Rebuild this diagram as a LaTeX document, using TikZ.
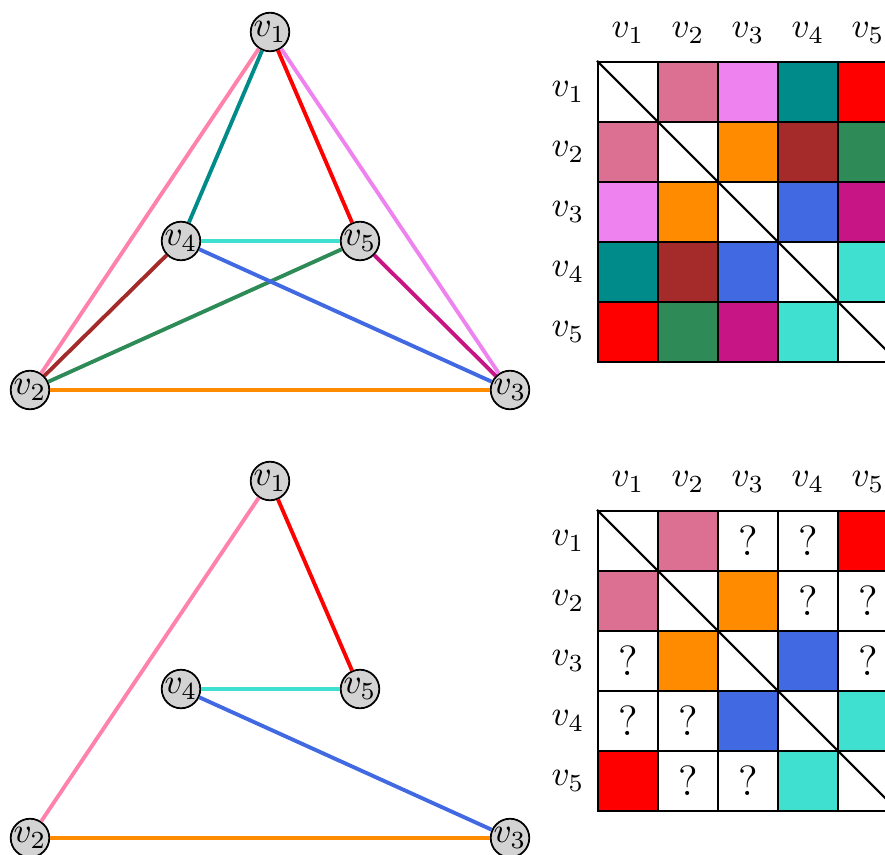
\documentclass[tikz,border=0pt]{standalone}
\usepackage{xcolor}
\usepackage{tikz}
\usetikzlibrary{positioning}

\definecolor{epink}{RGB}{255,130,170}
\definecolor{cpink}{RGB}{219,112,147}
\definecolor{eviolet}{RGB}{238,130,238}
\definecolor{eteal}{RGB}{0,139,139}
\definecolor{ered}{RGB}{255,0,0}
\definecolor{eorange}{RGB}{255,140,0}
\definecolor{ebrown}{RGB}{165,42,42}
\definecolor{egreen}{RGB}{46,139,87}
\definecolor{eblue}{RGB}{65,105,225}
\definecolor{emagenta}{RGB}{199,21,133}
\definecolor{eturq}{RGB}{64,224,208}
\definecolor{vgray}{RGB}{211,211,211}

\begin{document}
\begin{tikzpicture}[
  x=0.01cm, y=-0.01cm,
  vertex/.style={circle, draw, fill=vgray, minimum size=0.36cm, inner sep=0pt, line width=0.5pt},
  edge/.style={line width=1.1pt},
  cell/.style={draw, line width=0.6pt, minimum size=0.6cm, inner sep=0pt, fill=white, font=\large}
]
\useasboundingbox (0,0) rectangle (885,855);

% top graph
\node[vertex] (t1) at (270,32) {$v_1$};
\node[vertex] (t4) at (181,241) {$v_4$};
\node[vertex] (t5) at (360,241) {$v_5$};
\node[vertex] (t2) at (30,390) {$v_2$};
\node[vertex] (t3) at (510,390) {$v_3$};
\draw[edge, epink] (t1) -- (t2);
\draw[edge, eviolet] (t1) -- (t3);
\draw[edge, eteal] (t1) -- (t4);
\draw[edge, ered] (t1) -- (t5);
\draw[edge, eorange] (t2) -- (t3);
\draw[edge, ebrown] (t2) -- (t4);
\draw[edge, egreen] (t2) -- (t5);
\draw[edge, eblue] (t4) -- (t3);
\draw[edge, emagenta] (t5) -- (t3);
\draw[edge, eturq] (t4) -- (t5);

% bottom graph
\node[vertex] (b1) at (270,481) {$v_1$};
\node[vertex] (b4) at (181,689) {$v_4$};
\node[vertex] (b5) at (360,689) {$v_5$};
\node[vertex] (b2) at (30,838) {$v_2$};
\node[vertex] (b3) at (510,838) {$v_3$};
\draw[edge, epink] (b1) -- (b2);
\draw[edge, ered] (b1) -- (b5);
\draw[edge, eorange] (b2) -- (b3);
\draw[edge, eblue] (b4) -- (b3);
\draw[edge, eturq] (b4) -- (b5);

% top matrix
\foreach \k in {1,...,5} {
  \node[cell] (p\k\k) at ({568+60*\k},{32+60*\k}) {};
  \node (pc\k) at ({568+60*\k},33) {$v_\k$};
  \node (pr\k) at (568,{32+60*\k}) {$v_\k$};
}
\foreach \i/\j/\c in {1/2/cpink, 1/3/eviolet, 1/4/eteal, 1/5/ered, 2/3/eorange,
                      2/4/ebrown, 2/5/egreen, 3/4/eblue, 3/5/emagenta, 4/5/eturq} {
  \node[cell, fill=\c] (p\i\j) at ({568+60*\j},{32+60*\i}) {};
  \node[cell, fill=\c] (p\j\i) at ({568+60*\i},{32+60*\j}) {};
}
\draw[line width=0.6pt] (p11.north west) -- (p55.south east);

% bottom matrix
\foreach \k in {1,...,5} {
  \node[cell] (q\k\k) at ({568+60*\k},{481+60*\k}) {};
  \node (qc\k) at ({568+60*\k},482) {$v_\k$};
  \node (qr\k) at (568,{481+60*\k}) {$v_\k$};
}
\foreach \i/\j/\c/\t in {1/2/cpink/, 1/3/white/?, 1/4/white/?, 1/5/ered/, 2/3/eorange/,
                         2/4/white/?, 2/5/white/?, 3/4/eblue/, 3/5/white/?, 4/5/eturq/} {
  \node[cell, fill=\c] (q\i\j) at ({568+60*\j},{481+60*\i}) {\t};
  \node[cell, fill=\c] (q\j\i) at ({568+60*\i},{481+60*\j}) {\t};
}
\draw[line width=0.6pt] (q11.north west) -- (q55.south east);
\end{tikzpicture}
\end{document}
